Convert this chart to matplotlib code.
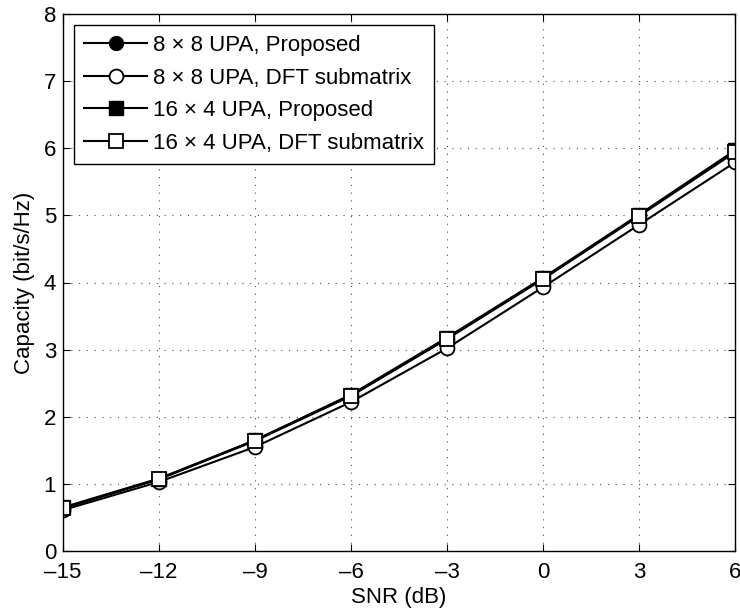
import matplotlib
matplotlib.use("Agg")
from matplotlib import pyplot as plt
import numpy as np

plt.rcParams['font.family'] = ['Liberation Sans', 'DejaVu Sans']

snr = [-15, -12, -9, -6, -3, 0, 3, 6]
upa88_prop = [0.64, 1.07, 1.65, 2.32, 3.16, 4.06, 5.00, 5.96]
upa88_dft = [0.61, 1.03, 1.55, 2.22, 3.02, 3.93, 4.86, 5.79]
upa164_prop = [0.65, 1.08, 1.65, 2.33, 3.18, 4.07, 5.01, 5.97]
upa164_dft = [0.64, 1.07, 1.64, 2.31, 3.16, 4.05, 4.99, 5.94]

labels = ['8 \u00d7 8 UPA, Proposed', '8 \u00d7 8 UPA, DFT submatrix',
          '16 \u00d7 4 UPA, Proposed', '16 \u00d7 4 UPA, DFT submatrix']
xticks = [-15, -12, -9, -6, -3, 0, 3, 6]
yticks = [0, 1, 2, 3, 4, 5, 6, 7, 8]

fig = plt.figure(figsize=(7.4, 6.11), dpi=100)
ax = fig.add_axes([63/740, 60/611, 672/740, 537/611])

lw = 1.5
ms = 10
ax.plot(snr, upa88_prop, '-o', color='k', lw=lw, ms=ms, mfc='k', mec='k', label=labels[0])
ax.plot(snr, upa88_dft, '-o', color='k', lw=lw, ms=ms, mfc='w', mec='k', mew=1.3, label=labels[1])
ax.plot(snr, upa164_prop, '-s', color='k', lw=lw, ms=ms, mfc='k', mec='k', label=labels[2])
ax.plot(snr, upa164_dft, '-s', color='k', lw=lw, ms=ms, mfc='w', mec='k', mew=1.3, label=labels[3])

ax.set_xlim(-15, 6)
ax.set_ylim(0, 8)
ax.set_xticks(xticks)
ax.set_xticklabels([str(t).replace('-', '\u2013') for t in xticks])
ax.set_yticks(yticks)
ax.tick_params(direction='in', top=True, right=True, labelsize=16, length=5)
ax.tick_params(axis='x', pad=8)
ax.tick_params(axis='y', pad=5)
ax.grid(True, linestyle=(0, (1, 6)), color='k', linewidth=0.8, alpha=0.7)
for s in ax.spines.values():
    s.set_linewidth(1.0)

ax.set_xlabel('SNR (dB)', fontsize=16, labelpad=3)
ax.set_ylabel('Capacity (bit/s/Hz)', fontsize=16, labelpad=6)

leg = ax.legend(loc='upper left', fontsize=16, handlelength=2.85, fancybox=False,
                edgecolor='k', framealpha=1, borderaxespad=0.5, labelspacing=0.52,
                handletextpad=0.25, borderpad=0.45)
leg.get_frame().set_linewidth(1.0)

fig.savefig('out.png', dpi=100)
